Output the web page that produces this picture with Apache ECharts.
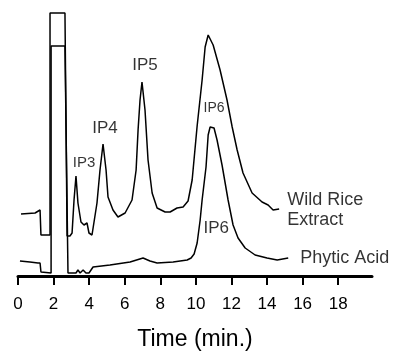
<!DOCTYPE html>
<html>
<head>
<meta charset="utf-8">
<script src="https://cdn.jsdelivr.net/npm/echarts@6/dist/echarts.min.js"></script>
<style>
  html, body { margin: 0; padding: 0; background: #fff; }
  #chart { width: 399px; height: 352px; }
</style>
</head>
<body>
<div id="chart"></div>
<script>
// time (min) and detector response (arbitrary units)
const wildRiceTime = [0.17, 0.96, 1.24, 1.29, 1.80, 1.80, 2.64, 2.76, 2.92, 3.04, 3.15, 3.26, 3.37, 3.54, 3.71, 3.88, 3.99, 4.16, 4.44, 4.61, 4.78, 4.95, 5.06, 5.34, 5.62, 6.02, 6.41, 6.64, 6.75, 6.86, 6.97, 7.14, 7.31, 7.54, 7.82, 8.27, 8.55, 8.94, 9.28, 9.56, 9.79, 10.07, 10.35, 10.52, 10.69, 10.80, 10.97, 11.36, 11.75, 12.04, 12.32, 12.65, 13.16, 13.72, 14.06, 14.34, 14.68];
const wildRiceSignal = [62, 63, 66, 41, 41, 263, 263, 40, 40, 43, 76, 100, 73, 54, 51, 53, 43, 41, 73, 106, 132, 106, 79, 66, 59, 63, 76, 106, 146, 176, 194, 166, 116, 83, 68, 64, 64, 68, 69, 75, 96, 150, 196, 229, 241, 239, 231, 206, 176, 149, 126, 103, 83, 74, 71, 66, 67];

const phyticTime = [0.11, 0.67, 1.12, 1.24, 1.29, 1.86, 1.86, 2.64, 2.81, 3.26, 3.37, 3.49, 3.66, 3.82, 3.99, 4.22, 5.17, 6.30, 7.03, 7.42, 7.82, 8.72, 9.51, 9.73, 9.90, 10.07, 10.24, 10.35, 10.57, 10.69, 10.80, 10.91, 11.02, 11.19, 11.47, 11.81, 12.09, 12.37, 12.77, 13.33, 14.00, 14.57, 15.19];
const phyticSignal = [15, 14, 13, 13, 4, 3, 230, 230, 3, 3, 6, 3, 6, 3, 3, 9, 11, 14, 18, 15, 13, 14, 16, 18, 22, 33, 56, 76, 109, 141, 149, 151, 148, 136, 111, 76, 51, 38, 28, 21, 18, 16, 18];

const tickValues = [0, 2, 4, 6, 8, 10, 12, 14, 16, 18];

// peak / trace labels: [time, signal, text]
const peakLabels = [
    [3.71, 113, 'IP3'],
    [4.89, 148, 'IP4'],
    [7.14, 211, 'IP5'],
    [11.02, 168, 'IP6'],
    [11.14, 48, 'IP6']
];
const traceLabels = [
    [15.13, 66, 'Wild Rice\nExtract'],
    [15.86, 18, 'Phytic Acid']
];

const zip = (xs, ys) => xs.map((x, i) => [x, ys[i]]);

const font = 'Liberation Sans, Arial, Helvetica, sans-serif';
const labelSizes = [15, 17, 17, 14, 17];

const chart = echarts.init(document.getElementById('chart'));

const option = {
    animation: false,
    backgroundColor: '#ffffff',
    grid: { left: 18, right: 27, top: 6, bottom: 76, outerBoundsMode: 'none', containLabel: false },
    xAxis: {
        type: 'value',
        min: 0,
        max: 19.9,
        name: 'Time (min.)',
        nameLocation: 'middle',
        nameGap: 52,
        nameTextStyle: { fontFamily: font, fontSize: 23, color: '#000' },
        splitLine: { show: false },
        axisLine: { lineStyle: { color: '#000', width: 3 } },
        axisTick: {
            customValues: tickValues,
            length: 9,
            lineStyle: { color: '#000', width: 2 }
        },
        axisLabel: {
            customValues: tickValues,
            margin: 20,
            fontFamily: font,
            fontSize: 17,
            color: '#000'
        }
    },
    yAxis: {
        type: 'value',
        min: 0,
        max: 270,
        show: false
    },
    series: [
        {
            name: 'Wild Rice Extract',
            type: 'line',
            data: zip(wildRiceTime, wildRiceSignal),
            symbol: 'none',
            lineStyle: { color: '#000', width: 1.5 }
        },
        {
            name: 'Phytic Acid',
            type: 'line',
            data: zip(phyticTime, phyticSignal),
            symbol: 'none',
            lineStyle: { color: '#000', width: 1.5 }
        },
        {
            type: 'scatter',
            symbolSize: 0,
            silent: true,
            data: peakLabels.map((p, i) => ({
                value: [p[0], p[1]],
                label: {
                    show: true,
                    position: 'inside',
                    formatter: p[2],
                    fontFamily: font,
                    fontSize: labelSizes[i],
                    color: '#000'
                }
            }))
        },
        {
            type: 'scatter',
            symbolSize: 0,
            silent: true,
            data: traceLabels.map(p => ({
                value: [p[0], p[1]],
                label: {
                    show: true,
                    position: 'right',
                    distance: 0,
                    align: 'left',
                    formatter: p[2],
                    fontFamily: font,
                    fontSize: 18,
                    lineHeight: 20,
                    color: '#000'
                }
            }))
        }
    ]
};

chart.setOption(option);
</script>
</body>
</html>
